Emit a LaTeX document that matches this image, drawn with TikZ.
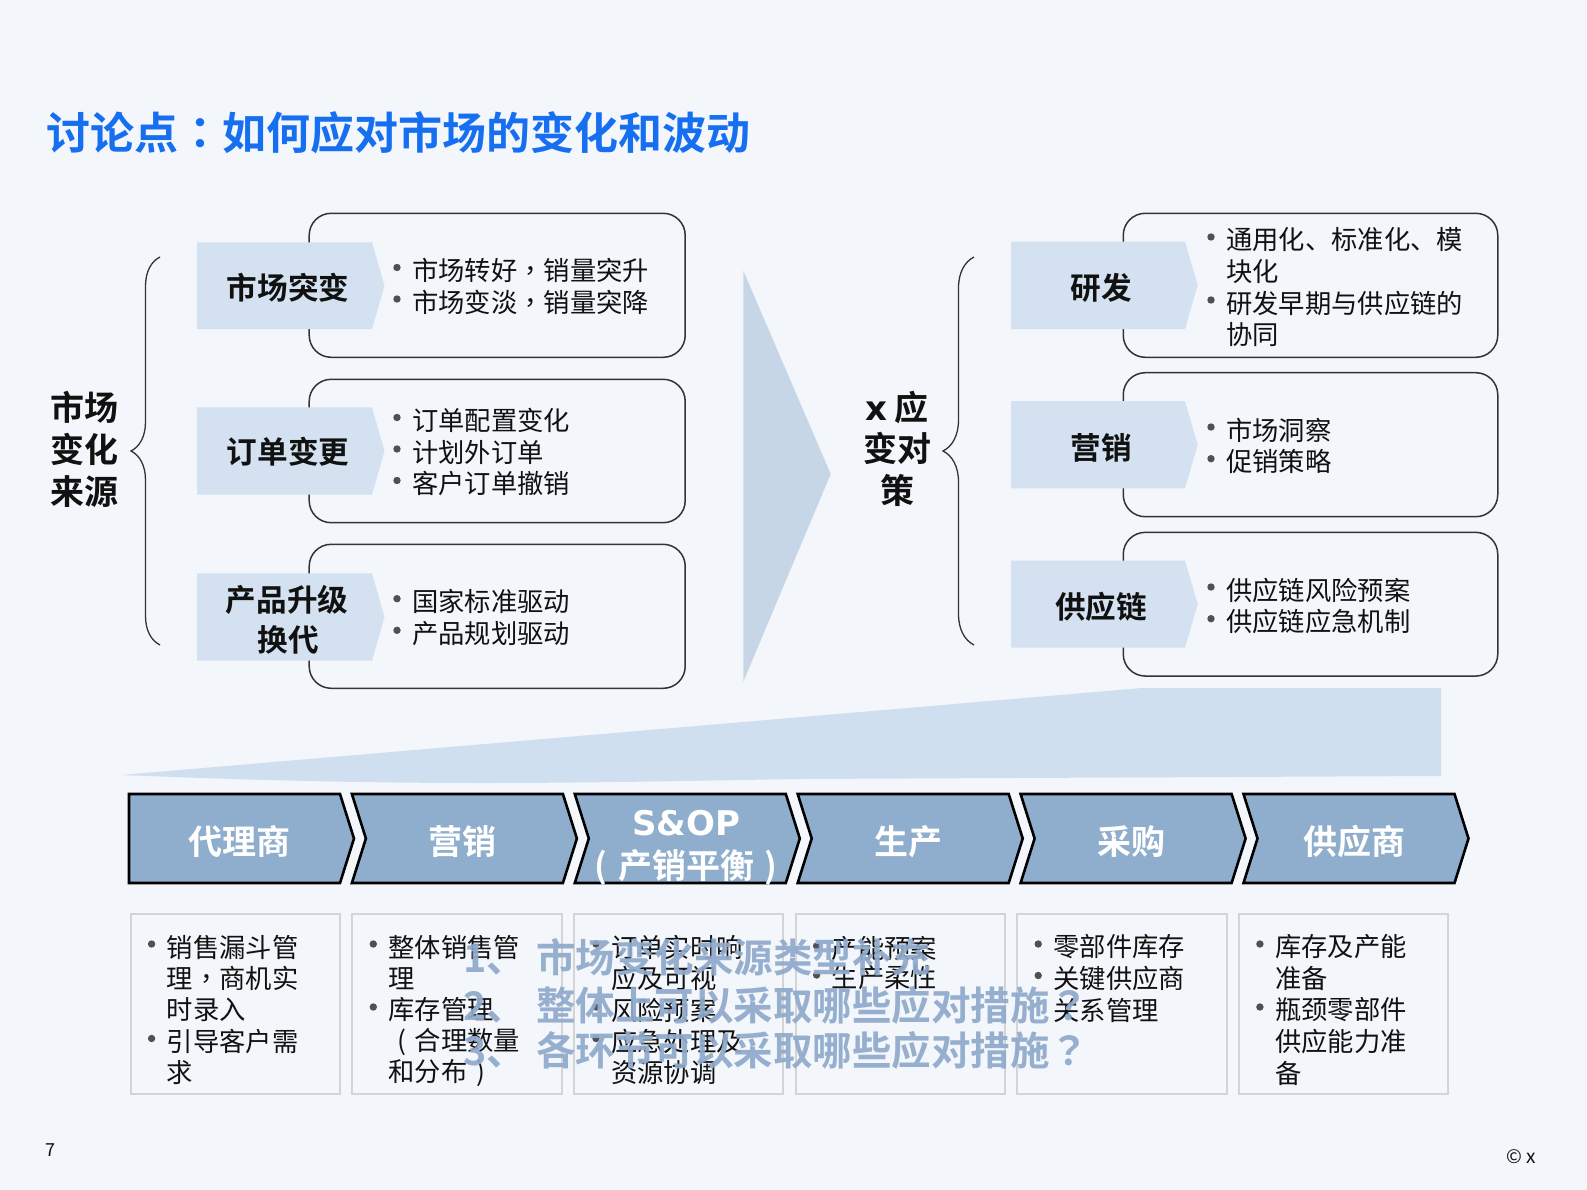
\documentclass[tikz,border=0pt]{standalone}
\usepackage{fontspec}
\setmainfont{Noto Sans CJK SC}[BoldFont={Noto Sans CJK SC Bold}]
\newfontfamily\tcfont{Noto Sans CJK TC}[BoldFont={Noto Sans CJK TC Bold}]
\newfontfamily\dejavu{DejaVu Sans}[BoldFont={DejaVu Sans Bold}]
\newcommand\pc[1]{{\tcfont #1}}
\newcommand\cparen[1]{\makebox[1em]{#1}}
\usetikzlibrary{decorations.pathreplacing}
\definecolor{bg}{HTML}{F3F6FA}
\definecolor{titleblue}{RGB}{22,111,240}
\definecolor{lblue}{HTML}{D3E1F0}
\definecolor{arrowblue}{HTML}{C6D6E6}
\definecolor{wedgeblue}{HTML}{D0DFEF}
\definecolor{chevblue}{HTML}{8FADCC}
\definecolor{overlayblue}{HTML}{8FAACC}
\definecolor{boxline}{HTML}{333333}
\definecolor{grayline}{HTML}{D4D4D4}
\definecolor{dotgray}{HTML}{505050}
\definecolor{ink}{HTML}{111111}
\tikzset{
  rbox/.style={draw=boxline, line width=1.5pt, rounded corners=22pt, fill=bg, inner sep=0pt},
  gbox/.style={draw=grayline, line width=2pt, fill=bg, inner sep=0pt},
  lab/.style={inner sep=0pt, text=ink, font=\bfseries\fontsize{30.6pt}{34pt}\selectfont},
  biglab/.style={inner sep=0pt, text=ink, font=\bfseries\fontsize{34pt}{38pt}\selectfont},
  chevtxt/.style={inner sep=0pt, text=white, font=\bfseries\fontsize{34pt}{38pt}\selectfont},
  txt/.style={anchor=west, inner sep=0pt, text=ink, font=\fontsize{26.3pt}{31pt}\selectfont},
  ov/.style={anchor=west, inner sep=0pt, text=overlayblue, text opacity=0.93, font=\bfseries\fontsize{39.5pt}{44pt}\selectfont},
  bracestyle/.style={decorate, draw=boxline, line width=1.3pt},
  chev/.style={fill=chevblue, draw=black, line width=2.6pt, line join=miter},
}
\newcommand\bul[4]{\fill[dotgray] ({#2-15},{#3-3}) circle (3.7pt); \node[txt] (#1) at (#2,#3) {#4};}
\newcommand\pln[4]{\node[txt] (#1) at (#2,#3) {#4};}
\begin{document}
\begin{tikzpicture}[x=1pt,y=-1pt]
\fill[bg] (0,0) rectangle (1587,1190);
\useasboundingbox (0,0) rectangle (1587,1190);

% title
\node[anchor=west, inner sep=0pt, text=titleblue, font=\bfseries\fontsize{44pt}{48pt}\selectfont] (title) at (46,132.5) {讨论点\pc{：}如何应对市场的变化和波动};

% left big label
\node[biglab] (srcA) at (84,407) {市场};
\node[biglab] (srcB) at (84,449) {变化};
\node[biglab] (srcC) at (84,492) {来源};
\draw[bracestyle, decoration={brace, amplitude=29pt}] (160,645) -- (160,257);

% right big label
\node[biglab] (cmA) at (897,408) {{\dejavu\bfseries x} 应};
\node[biglab] (cmB) at (897,448) {变对};
\node[biglab] (cmC) at (897,490) {策};
\draw[bracestyle, decoration={brace, amplitude=31pt}] (974,645) -- (974,257);

% big arrow
\fill[arrowblue] (743.3,270.7) -- (830.7,474) -- (743.3,681.7) -- cycle;

% left rounded boxes
\node[rbox, minimum width=376pt, minimum height=144pt] (rl1) at (497.2,285.3) {};
\node[rbox, minimum width=376pt, minimum height=143.4pt] (rl2) at (497.2,451) {};
\node[rbox, minimum width=376pt, minimum height=144pt] (rl3) at (497.2,616.3) {};
% right rounded boxes
\node[rbox, minimum width=374.5pt, minimum height=144pt] (rr1) at (1310.5,285.3) {};
\node[rbox, minimum width=374.5pt, minimum height=144pt] (rr2) at (1310.5,444.7) {};
\node[rbox, minimum width=374.5pt, minimum height=143.7pt] (rr3) at (1310.5,604.2) {};

% left label tabs
\fill[lblue] (197,242.3) -- (372,242.3) -- (384.5,285.7) -- (372,329) -- (197,329) -- cycle;
\fill[lblue] (197,407.3) -- (372,407.3) -- (384.5,451) -- (372,494.7) -- (197,494.7) -- cycle;
\fill[lblue] (197,573.3) -- (372,573.3) -- (384.5,617) -- (372,660.7) -- (197,660.7) -- cycle;
% right label tabs
\fill[lblue] (1011,241.7) -- (1185,241.7) -- (1197.7,285.3) -- (1185,329) -- (1011,329) -- cycle;
\fill[lblue] (1011,401) -- (1185,401) -- (1197.7,444.7) -- (1185,488.3) -- (1011,488.3) -- cycle;
\fill[lblue] (1011,560.7) -- (1185,560.7) -- (1197.7,604.2) -- (1185,647.7) -- (1011,647.7) -- cycle;

\node[lab] (l1) at (288,288) {市场突变};
\node[lab] (l2) at (288,452) {订单变更};
\node[lab] (l3a) at (287,600) {产品升级};
\node[lab] (l3b) at (288,640) {换代};
\node[lab] (r1) at (1101,288) {研发};
\node[lab] (r2) at (1101,448) {营销};
\node[lab] (r3) at (1101,606.7) {供应链};

% left bullets
\bul{la1}{412}{270.5}{市场转好\pc{，}销量突升}
\bul{la2}{412}{302}{市场变淡\pc{，}销量突降}
\bul{lb1}{412}{420.5}{订单配置变化}
\bul{lb2}{412}{452}{计划外订单}
\bul{lb3}{412}{483.5}{客户订单撤销}
\bul{lc1}{412}{601.7}{国家标准驱动}
\bul{lc2}{412}{633.3}{产品规划驱动}
% right bullets
\bul{ra1}{1226}{240}{通用化、标准化、模}
\pln{ra2}{1226}{272}{块化}
\bul{ra3}{1226}{303}{研发早期与供应链的}
\pln{ra4}{1226}{335}{协同}
\bul{rb1}{1226}{430}{市场洞察}
\bul{rb2}{1226}{461.7}{促销策略}
\bul{rc1}{1226}{590}{供应链风险预案}
\bul{rc2}{1226}{621.7}{供应链应急机制}

% wedge
\fill[wedgeblue] (121,775) -- (1142,688) -- (1441,688) -- (1441,776) -- (800,779) .. controls (560,783) and (420,787) .. (121,775) -- cycle;

% chevrons
\draw[chev] (129,794) -- (340,794) -- (354,838.5) -- (340,883) -- (129,883) -- cycle;
\foreach \i in {1,...,5}{
  \pgfmathsetmacro\L{129+222.9*\i}
  \draw[chev] (\L,794) -- ({\L+211},794) -- ({\L+225},838.5) -- ({\L+211},883) -- (\L,883) -- ({\L+14},838.5) -- cycle;
}
\node[chevtxt] (c0) at (239,842) {代理商};
\node[chevtxt] (c1) at (462,842) {营销};
\node[chevtxt] (c2a) at (686,823) {\dejavu\bfseries S\&OP};
\node[chevtxt] (c2b) at (686,867) {\cparen{(}产销平衡\cparen{)}};
\node[chevtxt] (c3) at (908,842) {生产};
\node[chevtxt] (c4) at (1131,842) {采购};
\node[chevtxt] (c5) at (1354,842) {供应商};

% bottom boxes
\foreach \i in {0,...,5}{
  \pgfmathsetmacro\L{130.6+221.66*\i}
  \node[gbox, minimum width=209.5pt, minimum height=180pt] (g\i) at ({\L+104.75},1004) {};
}
% box 1
\bul{a1}{166.6}{947}{销售漏斗管}
\pln{a2}{166.6}{978.5}{理\pc{，}商机实}
\pln{a3}{166.6}{1010}{时录入}
\bul{a4}{166.6}{1041.5}{引导客户需}
\pln{a5}{166.6}{1073}{求}
% box 2
\bul{b1}{388.3}{947}{整体销售管}
\pln{b2}{388.3}{978.5}{理}
\bul{b3}{388.3}{1010}{库存管理}
\pln{b4}{388.3}{1041.5}{\cparen{(}合理数量}
\pln{b5}{388.3}{1073}{和分布\cparen{)}}
% box 3
\bul{d1}{611}{947}{订单实时响}
\pln{d2}{611}{978.5}{应及可视}
\bul{d3}{611}{1010}{风险预案}
\bul{d4}{611}{1041.5}{应急处理及}
\pln{d5}{611}{1073}{资源协调}
% box 4
\bul{e1}{831.6}{949}{产能预案}
\bul{e2}{831.6}{978}{生产柔性}
% box 5
\bul{f1}{1053.2}{947}{零部件库存}
\bul{f2}{1053.2}{978.5}{关键供应商}
\pln{f3}{1053.2}{1010}{关系管理}
% box 6
\bul{h1}{1274.9}{947}{库存及产能}
\pln{h2}{1274.9}{978.5}{准备}
\bul{h3}{1274.9}{1010}{瓶颈零部件}
\pln{h4}{1274.9}{1041.5}{供应能力准}
\pln{h5}{1274.9}{1073}{备}

% overlay questions
\node[ov] (o1) at (463,957) {1、\hspace{10pt}市场变化来源类型补充};
\node[ov] (o2) at (463,1005) {2、\hspace{10pt}整体上可以采取哪些应对措施\pc{？}};
\node[ov] (o3) at (463,1050) {3、\hspace{10pt}各环节可以采取哪些应对措施\pc{？}};

% footer
\node[anchor=west, inner sep=0pt, text=ink, font=\fontsize{18pt}{20pt}\selectfont] (pg) at (45,1150) {7};
\node[anchor=west, inner sep=0pt, text=ink, font=\fontsize{19pt}{22pt}\selectfont] (cp) at (1506,1157) {© x};
\end{tikzpicture}
\end{document}
